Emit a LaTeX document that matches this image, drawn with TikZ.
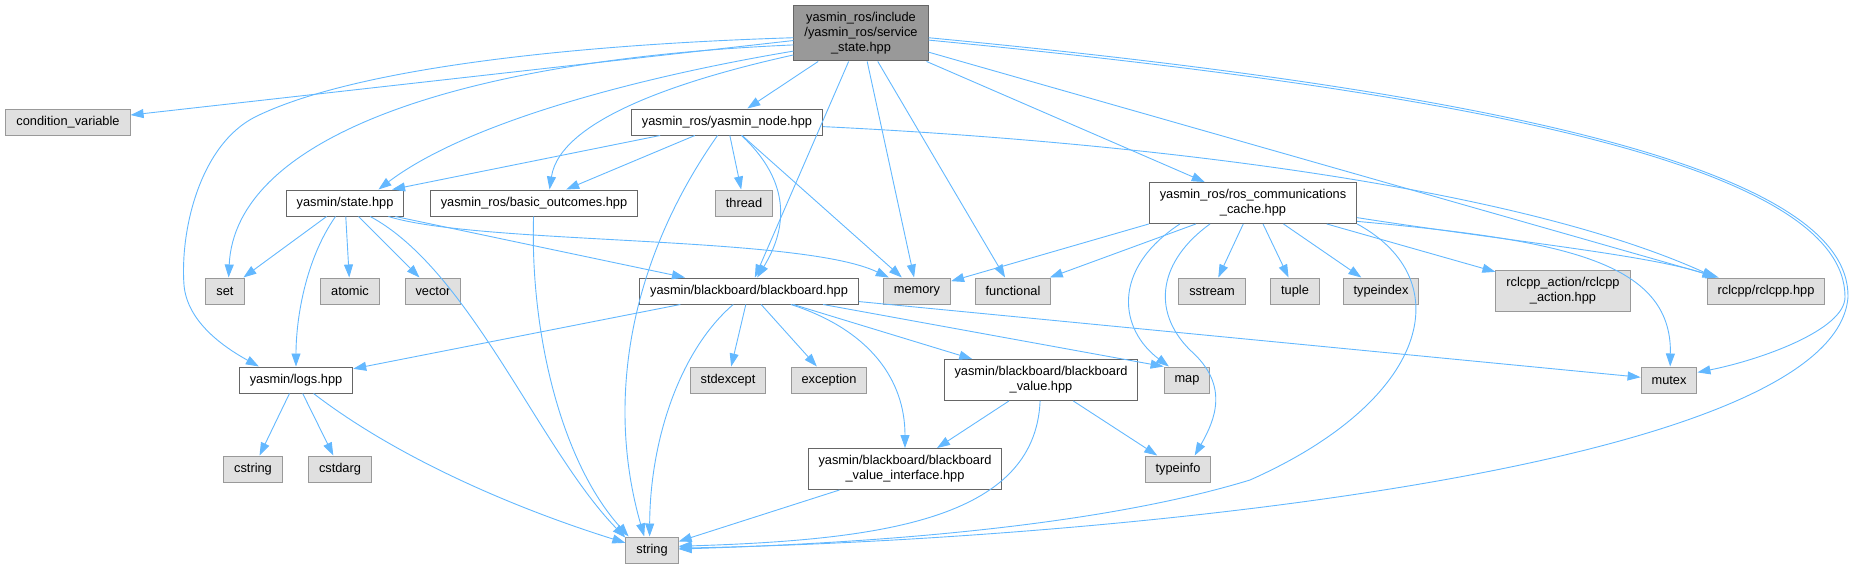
\documentclass[tikz,border=0pt]{standalone}
\usepackage{fontspec}
\setmainfont{Liberation Sans}
\usetikzlibrary{arrows.meta}
\definecolor{depblue}{HTML}{63B8FF}
\definecolor{mainfill}{HTML}{999999}
\definecolor{mainbd}{HTML}{666666}
\definecolor{sysfill}{HTML}{E0E0E0}
\definecolor{sysbd}{HTML}{999999}
\tikzset{
  hbox/.style={draw=mainbd, fill=white, align=center, inner xsep=10.5pt, inner ysep=7pt,
    minimum height=26pt, font=\fontsize{12.8}{15}\selectfont, line width=1pt},
  mainbox/.style={hbox, fill=mainfill},
  sysbox/.style={hbox, draw=sysbd, fill=sysfill},
  dep/.style={-{Triangle[length=13pt,width=9pt]}, draw=depblue, line width=0.9pt}
}
\begin{document}
\begin{tikzpicture}[x=1pt,y=-1pt]
\useasboundingbox (0,0) rectangle (1853,568);
\node[mainbox] (main) at (861,33) {yasmin\_ros/include\\/yasmin\_ros/service\\\_state.hpp};
\node[sysbox] (condvar) at (68,122) {condition\_variable};
\node[hbox] (ynode) at (727,122) {yasmin\_ros/yasmin\_node.hpp};
\node[hbox] (state) at (345,203) {yasmin/state.hpp};
\node[hbox] (basic) at (534,203) {yasmin\_ros/basic\_outcomes.hpp};
\node[sysbox] (thread) at (744,203) {thread};
\node[hbox] (comm) at (1253,203) {yasmin\_ros/ros\_communications\\\_cache.hpp};
\node[sysbox] (set) at (225,291) {set};
\node[sysbox] (atomic) at (350,291) {atomic};
\node[sysbox] (vector) at (433,291) {vector};
\node[hbox] (bb) at (749,291) {yasmin/blackboard/blackboard.hpp};
\node[sysbox] (memory) at (917,291) {memory};
\node[sysbox] (functional) at (1013,291) {functional};
\node[sysbox] (sstream) at (1212,291) {sstream};
\node[sysbox] (tuple) at (1295,291) {tuple};
\node[sysbox] (typeindex) at (1381,291) {typeindex};
\node[sysbox] (rclact) at (1563,291) {rclcpp\_action/rclcpp\\\_action.hpp};
\node[sysbox] (rclcpp) at (1766,291) {rclcpp/rclcpp.hpp};
\node[hbox] (logs) at (296,380) {yasmin/logs.hpp};
\node[sysbox] (stdexcept) at (728,380) {stdexcept};
\node[sysbox] (exception) at (829,380) {exception};
\node[hbox] (bbval) at (1041,380) {yasmin/blackboard/blackboard\\\_value.hpp};
\node[sysbox] (map) at (1187,380) {map};
\node[sysbox] (mutex) at (1669,380) {mutex};
\node[sysbox] (cstring) at (253,469) {cstring};
\node[sysbox] (cstdarg) at (340,469) {cstdarg};
\node[hbox] (bbiface) at (905,469) {yasmin/blackboard/blackboard\\\_value\_interface.hpp};
\node[sysbox] (typeinfo) at (1178,469) {typeinfo};
\node[sysbox] (string) at (652,550) {string};
% main header
\draw[dep] (main) -- (condvar);
\draw[dep] (main.184) .. controls (560,45) and (350,70) .. (255,117) .. controls (200,145) and (180,230) .. (184,285) .. controls (187,320) and (220,345) .. (logs.160);
\draw[dep] (main.190) .. controls (450,60) and (235,140) .. (set.75);
\draw[dep] (main.195) .. controls (650,75) and (470,120) .. (state.22);
\draw[dep] (main.198) .. controls (680,80) and (560,120) .. (basic.41);
\draw[dep] (main) -- (ynode); \draw[dep] (main) -- (bb); \draw[dep] (main) -- (memory);
\draw[dep] (main) -- (functional); \draw[dep] (main) -- (comm); \draw[dep] (main) -- (rclcpp);
\draw[dep] (main.354) .. controls (1500,95) and (1845,170) .. (1845,297) .. controls (1845,330) and (1760,360) .. (mutex.15);
\draw[dep] (main.356) .. controls (1500,92) and (1850,170) .. (1848,297) .. controls (1835,470) and (1100,540) .. (string.4);
% yasmin_node
\draw[dep] (ynode) -- (state.16); \draw[dep] (ynode) -- (basic); \draw[dep] (ynode) -- (thread);
\draw[dep] (ynode) .. controls (630,260) and (605,400) .. (string.120);
\draw[dep] (ynode) .. controls (800,190) and (780,240) .. (bb);
\draw[dep] (ynode) -- (memory);
\draw[dep] (ynode) .. controls (1100,140) and (1500,180) .. (rclcpp.165);
% state
\draw[dep] (state) -- (set); \draw[dep] (state) -- (atomic); \draw[dep] (state) -- (vector);
\draw[dep] (state) .. controls (305,260) and (296,320) .. (logs);
\draw[dep] (state) .. controls (470,270) and (540,450) .. (string.155);
\draw[dep] (state.-15) -- (bb);
\draw[dep] (state) .. controls (480,245) and (800,235) .. (memory);
\draw[dep] (basic) .. controls (530,330) and (560,460) .. (string.150);
% ros_communications_cache
\draw[dep] (comm.south west) -- (memory); \draw[dep] (comm) -- (functional);
\draw[dep] (comm.196) .. controls (1110,270) and (1120,330) .. (map);
\draw[dep] (comm.206) .. controls (1160,260) and (1150,310) .. (1190,350) .. controls (1230,385) and (1215,420) .. (typeinfo.39);
\draw[dep] (comm) -- (sstream); \draw[dep] (comm) -- (tuple); \draw[dep] (comm) -- (typeindex);
\draw[dep] (comm) -- (rclact);
\draw[dep] (comm.352) .. controls (1500,240) and (1650,255) .. (rclcpp.165);
\draw[dep] (comm.350) .. controls (1560,240) and (1672,260) .. (mutex.85);
\draw[dep] (comm.south east) .. controls (1460,280) and (1430,400) .. (1250,480) .. controls (1070,535) and (800,545) .. (string.2);
% blackboard
\draw[dep] (bb) -- (logs);
\draw[dep] (bb) .. controls (680,350) and (650,440) .. (string.100);
\draw[dep] (bb) -- (stdexcept); \draw[dep] (bb) -- (exception);
\draw[dep] (bb) .. controls (870,330) and (905,380) .. (bbiface);
\draw[dep] (bb) -- (bbval); \draw[dep] (bb) -- (map.150); \draw[dep] (bb) -- (mutex);
% logs, values
\draw[dep] (logs) -- (cstring); \draw[dep] (logs) -- (cstdarg);
\draw[dep] (logs) .. controls (400,460) and (520,510) .. (string.165);
\draw[dep] (bbval) -- (bbiface); \draw[dep] (bbval) -- (typeinfo);
\draw[dep] (bbval) .. controls (1035,520) and (880,540) .. (string.8);
\draw[dep] (bbiface) -- (string);
\end{tikzpicture}
\end{document}
